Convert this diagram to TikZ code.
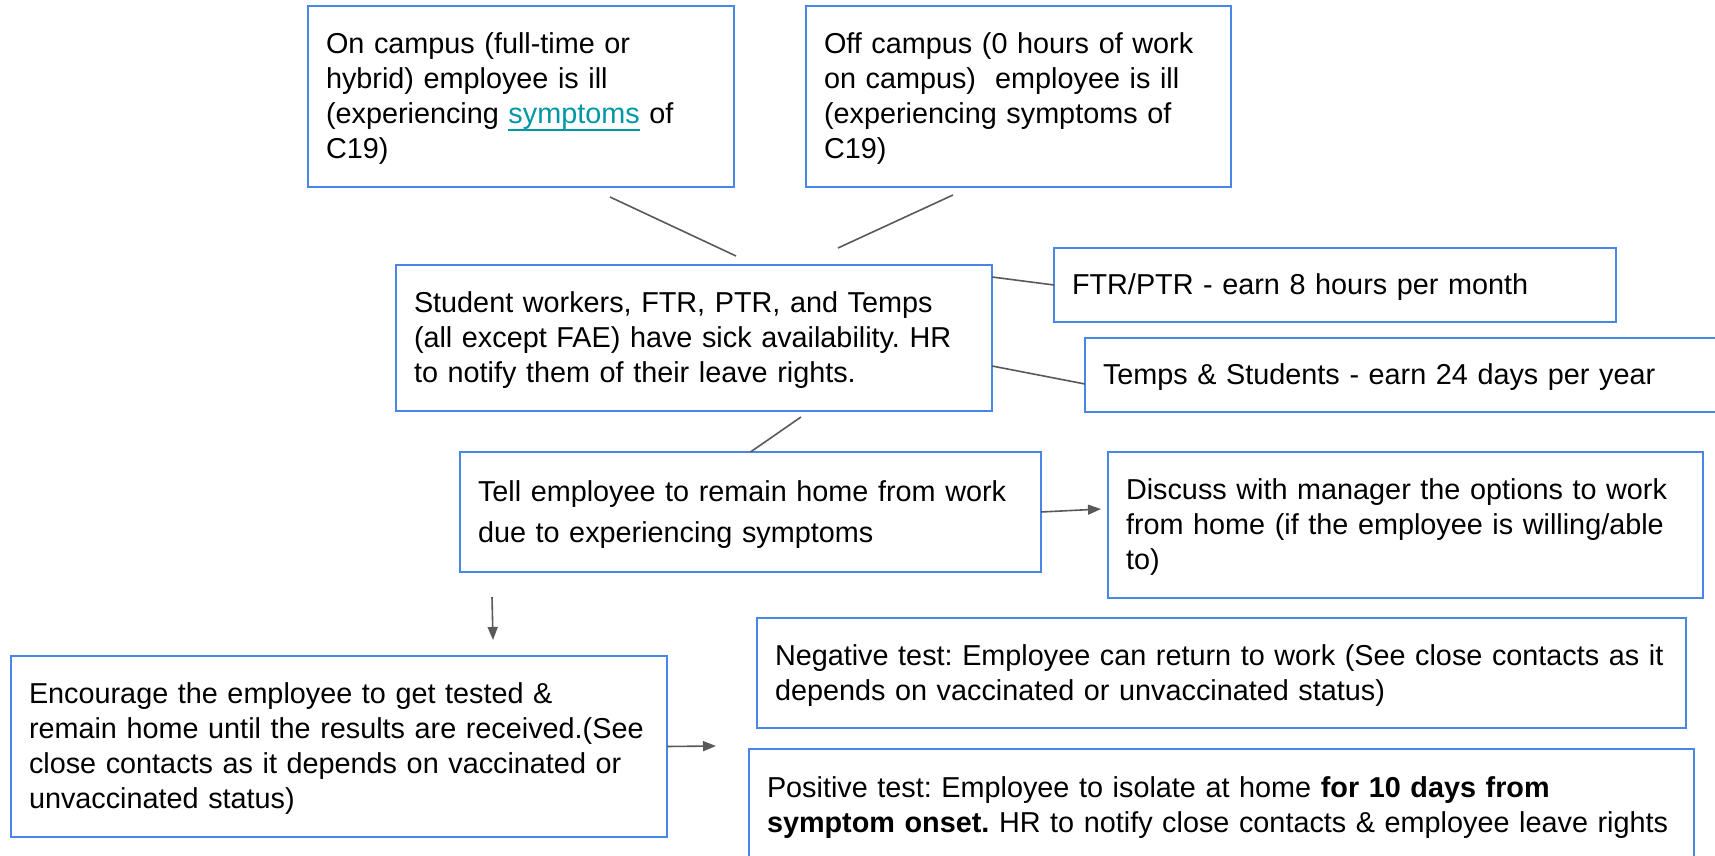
\documentclass[tikz,border=0pt]{standalone}
\usepackage{fontspec}
\setmainfont{Liberation Sans}
\usepackage{xcolor}
\usetikzlibrary{arrows.meta}
\frenchspacing
\definecolor{boxblue}{HTML}{4A86E8}
\definecolor{linegray}{HTML}{595959}
\definecolor{linkteal}{HTML}{0097A7}
% line box of the drawing program: centre the text by its line height
\newcommand\gstrut{\rule[\dimexpr0.3465em-0.5\baselineskip\relax]{0pt}{\baselineskip}}
\newcommand\weblink[1]{\textcolor{linkteal}{\setbox0\hbox{#1}%
  \rlap{\rule[-3.6pt]{\wd0}{0.9pt}}\box0}}
\tikzset{
  flowbox/.style = {draw=boxblue, line width=1pt, rectangle, align=left,
    inner xsep=9pt, inner ysep=0pt, outer sep=0pt, anchor=north west,
    font=\fontsize{14.4}{17.5}\selectfont,
    execute at begin node={\hyphenpenalty=10000
      \rightskip=0pt plus 1fil minus 6pt\gstrut},
    execute at end node=\gstrut},
  box_n/.style n args = {3}{flowbox, minimum width=#1, minimum height=#2,
    text width=#3},
  conn/.style = {draw=linegray, line width=0.8pt},
}

\begin{document}
\begin{tikzpicture}[x=0.5pt, y=-0.5pt, >={Triangle[length=6.5pt,width=5pt]}]
  \useasboundingbox (0,0) rectangle (1715,856);
  % who is ill
  \node [box_n={213pt}{90.5pt}{195pt}] (oncampus) at (308,6)
    {On campus (full-time or\\ hybrid) employee is ill\\
     (experiencing \weblink{symptoms} of\\ C19)};
  \node [box_n={212.5pt}{90.5pt}{194.5pt}] (offcampus) at (806,6)
    {Off campus (0 hours of work\\ on campus)~ employee is ill\\
     (experiencing symptoms of\\ C19)};
  % sick leave
  \node [box_n={298pt}{73pt}{280pt}] (sick) at (396,265)
    {Student workers, FTR, PTR, and Temps\\
     (all except FAE) have sick availability. HR\\
     to notify them of their leave rights.};
  \node [box_n={281pt}{37pt}{263pt}] (ftrptr) at (1054,248)
    {FTR/PTR - earn 8 hours per month};
  \node [box_n={317.5pt}{37pt}{299.5pt}] (temps) at (1085,338)
    {Temps \& Students - earn 24 days per year};
  % stay home
  \node [box_n={290.5pt}{60pt}{272.5pt}, font=\fontsize{14.4}{20.8}\selectfont]
    (stayhome) at (460,452)
    {Tell employee to remain home from work\\ due to experiencing symptoms};
  \node [box_n={297.5pt}{73pt}{279.5pt}] (wfh) at (1108,452)
    {Discuss with manager the options to work\\
     from home (if the employee is willing/able\\ to)};
  % testing
  \node [box_n={328pt}{90.5pt}{310pt}] (gettested) at (11,656)
    {Encourage the employee to get tested \&\\
     remain home until the results are received.(See\\
     close contacts as it depends on vaccinated or\\
     unvaccinated status)};
  \node [box_n={464.5pt}{55pt}{446.5pt}] (negative) at (757,618)
    {Negative test: Employee can return to work (See close contacts as it\\
     depends on vaccinated or unvaccinated status)};
  \node [box_n={472.5pt}{56pt}{454.5pt}] (positive) at (749,749)
    {Positive test: Employee to isolate at home \textbf{for 10 days from}\\
     \textbf{symptom onset.} HR to notify close contacts \& employee leave rights};
  \coordinate (results) at (716,746);

  \draw [conn] ([shift={(89,10)}]oncampus.south) -- ([shift={(42,-9)}]sick.north);
  \draw [conn] ([shift={(-65.5,8)}]offcampus.south) -- ([shift={(144,-17)}]sick.north);
  \draw [conn] ([shift={(0,12)}]sick.north east) -- (ftrptr.west);
  \draw [conn] ([shift={(0,28)}]sick.east) -- ([shift={(0,9)}]temps.west);
  \draw [conn] ([shift={(107,6)}]sick.south) -- (stayhome.north);
  \draw [conn,->] (stayhome.east) -- ([shift={(-7,-16)}]wfh.west);
  \draw [conn,->] ([shift={(32,25)}]stayhome.south west)
    -- ([shift={(154,-16)}]gettested.north);
  \draw [conn,->] (gettested.east) -- (results);
\end{tikzpicture}
\end{document}
